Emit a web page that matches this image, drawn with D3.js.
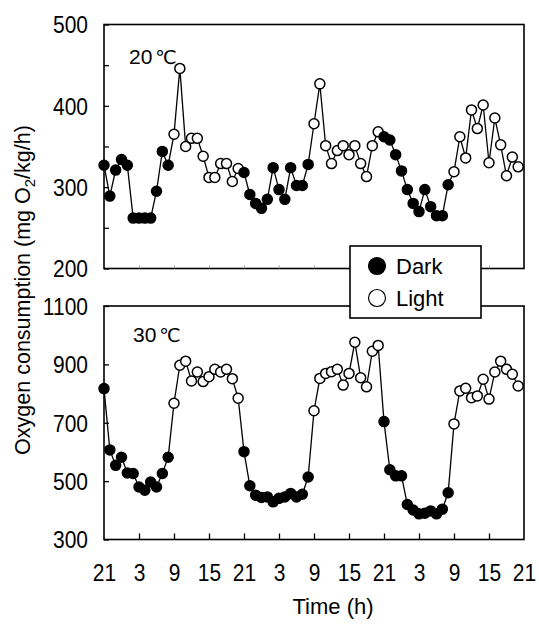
<!DOCTYPE html>
<html>
<head>
<meta charset="utf-8">
<script src="https://cdn.jsdelivr.net/npm/d3@7"></script>
<style>
  body { margin: 0; background: #fff; }
  text { font-family: "Liberation Sans", Arial, sans-serif; fill: #000; }
</style>
</head>
<body>
<svg id="chart" width="539" height="624"></svg>
<script>
// oxygen consumption, hourly from 21:00, 20 C panel
const temp20 = [327, 289, 321, 334, 327, 262, 262, 262, 262, 295, 344, 327,
  365, 446, 350, 360, 360, 338, 312, 312, 329, 329, 307, 323,
  318, 291, 280, 274, 285, 324, 297, 285, 324, 302, 302, 328,
  378, 427, 351, 329, 345, 351, 340, 351, 329, 313, 351, 368,
  362, 358, 340, 320, 297, 280, 270, 297, 276, 265, 265, 303,
  319, 362, 336, 395, 372, 401, 330, 385, 352, 314, 337, 325];

// 30 C panel
const temp30 = [817, 607, 554, 582, 528, 526, 480, 469, 497, 480, 526, 582,
  767, 897, 911, 843, 874, 841, 858, 883, 874, 883, 851, 784,
  601, 484, 452, 444, 446, 429, 441, 446, 458, 446, 455, 514,
  741, 852, 869, 875, 883, 829, 869, 976, 854, 823, 945, 965,
  704, 539, 518, 518, 420, 401, 388, 390, 398, 388, 404, 460,
  696, 809, 818, 786, 792, 849, 781, 874, 911, 883, 866, 826];

const startClock = 21;          // first sample at 21 h
const lightOn = 9, lightOff = 20; // light phase, clock hours
const xTickLabels = ['21', '3', '9', '15', '21', '3', '9', '15', '21', '3', '9', '15', '21'];
const yTicks20 = [200, 300, 400, 500];
const yTicks30 = [300, 500, 700, 900, 1100];
const legendItems = ['Dark', 'Light'];

const svg = d3.select('#chart');
const left = 104, right = 524;

const x = d3.scaleLinear().domain([0, 72]).range([left, right]);

const panels = [
  {label: '20', values: temp20, domain: [200, 500], range: [268.5, 24.5], ticks: yTicks20, minor: 50},
  {label: '30', values: temp30, domain: [300, 1100], range: [539.5, 306], ticks: yTicks30, minor: 200}
];

const isLight = i => {
  let h = (startClock + i) % 24;
  return h >= lightOn && h <= lightOff;
};

panels.forEach((p, pi) => {
  const y = d3.scaleLinear().domain(p.domain).range(p.range);
  const g = svg.append('g');

  // frame
  g.append('rect')
    .attr('x', left).attr('y', p.range[1])
    .attr('width', right - left).attr('height', p.range[0] - p.range[1])
    .attr('fill', 'none').attr('stroke', '#000').attr('stroke-width', 1.6);

  // inward ticks on left
  g.append('g')
    .attr('transform', `translate(${left},0)`)
    .call(d3.axisLeft(y).tickValues(d3.range(p.domain[0], p.domain[1] + 1, p.minor)).tickSize(-5).tickFormat(''))
    .call(a => a.select('.domain').remove())
    .selectAll('line').attr('stroke-width', 1.3);

  // labels
  const ya = g.append('g')
    .attr('transform', `translate(${left - 16},0)`)
    .call(d3.axisLeft(y).tickValues(p.ticks).tickSize(0).tickPadding(0).tickFormat(d3.format('d')))
    .call(a => a.select('.domain').remove());
  ya.selectAll('text')
    .style('font-size', '21px')
    .attr('dy', '0.36em')
    .attr('transform', 'scale(1,1.1)');
  ya.attr('font-family', null);

  // bottom ticks
  const bottomAxis = g.append('g')
    .attr('transform', `translate(0,${p.range[0]})`)
    .call(d3.axisBottom(x).tickValues(d3.range(6, 72, 6)).tickSize(pi === 0 ? -3 : -6).tickFormat(''))
    .call(a => a.select('.domain').remove());
  bottomAxis.selectAll('line').attr('stroke-width', pi === 0 ? 0.8 : 1.3)
    .attr('stroke', pi === 0 ? '#999' : '#000');

  // line
  const line = d3.line().x((d, i) => x(i)).y(d => y(d));
  g.append('path')
    .datum(p.values)
    .attr('d', line)
    .attr('fill', 'none')
    .attr('stroke', '#000')
    .attr('stroke-width', 1.3);

  // points
  g.selectAll('.pt')
    .data(p.values)
    .join('circle')
    .attr('class', 'pt')
    .attr('cx', (d, i) => x(i))
    .attr('cy', d => y(d))
    .attr('r', 5)
    .attr('fill', (d, i) => isLight(i) ? '#fff' : '#000')
    .attr('stroke', '#000')
    .attr('stroke-width', 1.5);

  // temperature label
  const t = g.append('text')
    .attr('x', pi === 0 ? 129 : 133)
    .attr('y', pi === 0 ? 64 : 342)
    .style('font-size', '21px');
  t.append('tspan').text(p.label);
  t.append('tspan').attr('dx', 3).style('font-family', '"DejaVu Sans", sans-serif').style('font-size', '19px').text('\u2103');
});

// x tick labels
const xl = svg.append('g')
  .attr('transform', 'translate(0,581)')
  .call(d3.axisBottom(x).tickValues(d3.range(0, 73, 6)).tickSize(0).tickPadding(0)
    .tickFormat((d, i) => xTickLabels[i]))
  .call(a => a.select('.domain').remove());
xl.attr('font-family', null);
xl.selectAll('text')
  .attr('dy', 0)
  .style('font-size', '21px')
  .attr('transform', 'scale(1,1.1)');

svg.append('text')
  .attr('x', 333).attr('y', 614)
  .attr('text-anchor', 'middle')
  .style('font-size', '22px')
  .text('Time (h)');

// y label
const yl = svg.append('text')
  .attr('transform', 'translate(30,290) rotate(-90)')
  .attr('text-anchor', 'middle')
  .style('font-size', '21.5px');
yl.append('tspan').text('Oxygen consumption (mg O');
yl.append('tspan').attr('dy', 5).style('font-size', '15px').text('2');
yl.append('tspan').attr('dy', -5).text('/kg/h)');

// legend
const lg = svg.append('g');
lg.append('rect')
  .attr('x', 350).attr('y', 246).attr('width', 131).attr('height', 72)
  .attr('fill', '#fff').attr('stroke', '#000').attr('stroke-width', 1.6);
lg.selectAll('circle')
  .data(legendItems)
  .join('circle')
  .attr('cx', 377)
  .attr('cy', (d, i) => 266 + i * 32)
  .attr('r', 8.5)
  .attr('fill', d => d === 'Dark' ? '#000' : '#fff')
  .attr('stroke', '#000')
  .attr('stroke-width', 1.2);
lg.selectAll('text')
  .data(legendItems)
  .join('text')
  .attr('x', 396)
  .attr('y', (d, i) => 274 + i * 32)
  .style('font-size', '22px')
  .text(d => d);
</script>
</body>
</html>
